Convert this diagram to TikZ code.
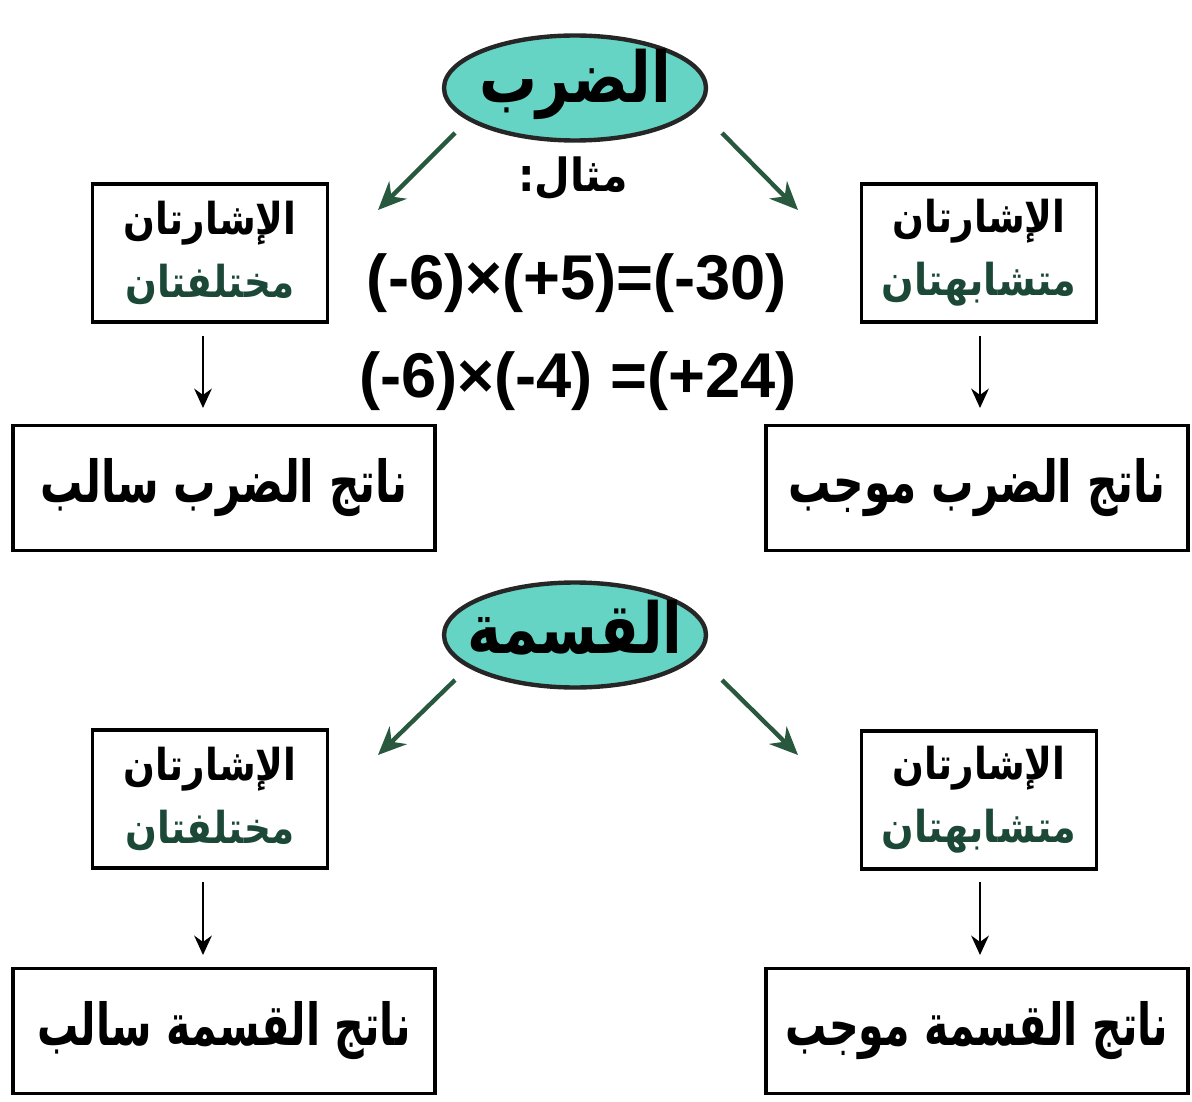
\documentclass[tikz,border=0pt]{standalone}
\usepackage{fontspec}
\usepackage{graphicx}
\setmainfont{DejaVu Sans}
\newfontfamily\arfont[Script=Arabic]{DejaVu Sans}
\newfontfamily\eqfont{Liberation Sans}
\TeXXeTstate=1
\usetikzlibrary{shapes.geometric,arrows.meta}
\definecolor{ovalfill}{RGB}{102,212,196}
\definecolor{arrgreen}{RGB}{40,88,62}
\definecolor{txtgreen}{RGB}{28,72,56}
\begin{document}
\begin{tikzpicture}[x=0.02cm,y=-0.02cm,
  box/.style={draw=black,line width=2pt,rectangle,inner sep=0pt,align=center,
    font=\arfont\bfseries},
  smallbox/.style={box,minimum width=4.7cm,minimum height=2.76cm,font=\arfont\bfseries\fontsize{25}{36}\selectfont},
  bigbox/.style={box,minimum width=8.44cm,minimum height=2.5cm,font=\arfont\bfseries\fontsize{33}{38}\selectfont},
  oval/.style={ellipse,draw=black!85,line width=2.5pt,fill=ovalfill,minimum width=5.24cm,minimum height=2.1cm,
    inner sep=0pt},
  ovaltext/.style={inner sep=0pt,font=\arfont\bfseries\fontsize{40}{46}\selectfont},
  garr/.style={draw=arrgreen,line width=2.5pt,-{Stealth[length=16pt,width=14pt]}},
  darr/.style={draw=black,line width=1.6pt,-{Stealth[length=11pt,width=10pt]}},
  eqn/.style={font=\eqfont\bfseries\fontsize{36}{40}\selectfont,inner sep=0pt}]
\fill[white] (0,0) rectangle (1192,1101);
\useasboundingbox (0,0) rectangle (1192,1101);
% ---- multiplication ----
\node[oval] (mul) at (575,88) {};
\node[ovaltext] (mult) at (575,84) {\scalebox{0.82}[1]{\beginR الضرب\endR}};
\node[font=\arfont\bfseries\fontsize{26}{30}\selectfont,inner sep=0pt] (ex) at (573,178) {\scalebox{0.9}[1]{\beginR مثال:\endR}};
\node[smallbox] (m1) at (210,253) {\scalebox{0.85}[1]{\beginR الإشارتان\endR}\\ \color{txtgreen}\scalebox{0.85}[1]{\beginR مختلفتان\endR}};
\node[smallbox] (m2) at (979,253) {\scalebox{0.85}[1]{\beginR الإشارتان\endR}\\ \color{txtgreen}\scalebox{0.87}[1]{\beginR متشابهتان\endR}};
\node[eqn] (e1) at (577,283) {(-6)×(+5)=(-30)};
\node[eqn] (e2) at (578,381) {(-6)×(-4) =(+24)};
\node[bigbox] (r1) at (224,488) {\scalebox{0.73}[1]{\beginR ناتج الضرب سالب\endR}};
\node[bigbox] (r2) at (977,488) {\scalebox{0.73}[1]{\beginR ناتج الضرب موجب\endR}};
\coordinate (a1s) at (455,133); \coordinate (a1e) at (378,210);
\coordinate (a2s) at (722,133); \coordinate (a2e) at (798,210);
\draw[garr] (a1s) -- (a1e);
\draw[garr] (a2s) -- (a2e);
\coordinate (d1s) at (203,336); \coordinate (d1e) at (203,408);
\coordinate (d2s) at (980,336); \coordinate (d2e) at (980,408);
\draw[darr] (d1s) -- (d1e);
\draw[darr] (d2s) -- (d2e);
% ---- division ----
\node[oval] (div) at (575,635) {};
\node[ovaltext] (divt) at (575,628) {\scalebox{0.82}[1]{\beginR القسمة\endR}};
\node[smallbox] (q1) at (210,799) {\scalebox{0.85}[1]{\beginR الإشارتان\endR}\\ \color{txtgreen}\scalebox{0.85}[1]{\beginR مختلفتان\endR}};
\node[smallbox] (q2) at (979,800) {\scalebox{0.85}[1]{\beginR الإشارتان\endR}\\ \color{txtgreen}\scalebox{0.87}[1]{\beginR متشابهتان\endR}};
\node[bigbox] (s1) at (224,1031) {\scalebox{0.71}[1]{\beginR ناتج القسمة سالب\endR}};
\node[bigbox] (s2) at (977,1031) {\scalebox{0.71}[1]{\beginR ناتج القسمة موجب\endR}};
\coordinate (b1s) at (455,680); \coordinate (b1e) at (378,755);
\coordinate (b2s) at (722,680); \coordinate (b2e) at (798,755);
\draw[garr] (b1s) -- (b1e);
\draw[garr] (b2s) -- (b2e);
\coordinate (f1s) at (203,882); \coordinate (f1e) at (203,955);
\coordinate (f2s) at (980,882); \coordinate (f2e) at (980,955);
\draw[darr] (f1s) -- (f1e);
\draw[darr] (f2s) -- (f2e);
\end{tikzpicture}
\end{document}
